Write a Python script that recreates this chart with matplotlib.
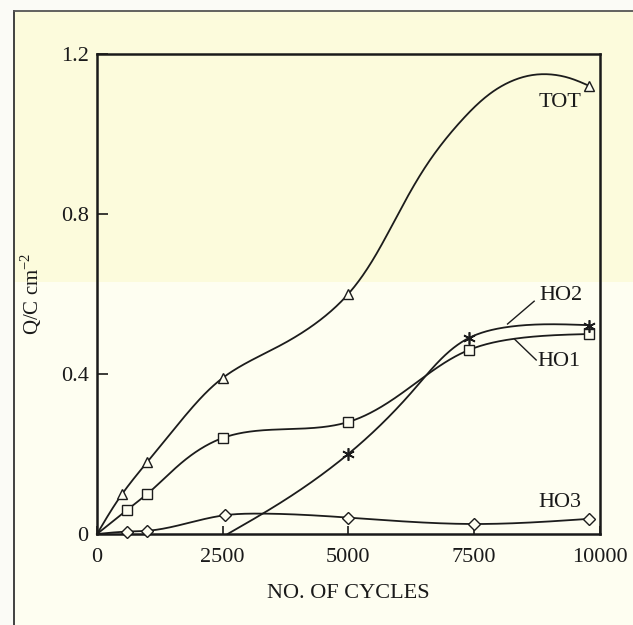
import numpy as np
import matplotlib
matplotlib.use("Agg")
import matplotlib.pyplot as plt
from matplotlib.patches import Rectangle
from matplotlib.lines import Line2D

# ---------------- data ----------------
# marker positions
tot_x = [500, 1000, 2500, 5000, 9800]
tot_y = [0.10, 0.18, 0.39, 0.60, 1.12]
ho1_x = [600, 1000, 2500, 5000, 7400, 9800]
ho1_y = [0.06, 0.10, 0.24, 0.28, 0.46, 0.50]
ho2_x = [5000, 7400, 9800]
ho2_y = [0.20, 0.49, 0.52]
ho3_x = [600, 1000, 2550, 5000, 7500, 9800]
ho3_y = [0.006, 0.008, 0.047, 0.041, 0.025, 0.038]

# traced points of the drawn smooth curves
tot_cx = [0, 500, 1000, 1750, 2500, 3700, 5000, 5950, 6600, 7300, 7950, 8700, 9400, 9800]
tot_cy = [0, 0.10, 0.18, 0.295, 0.39, 0.475, 0.60, 0.79, 0.93, 1.04, 1.112, 1.148, 1.14, 1.12]
ho1_cx = [0, 600, 1000, 1750, 2500, 3750, 5000, 6100, 7400, 8300, 9800]
ho1_cy = [0, 0.06, 0.10, 0.185, 0.24, 0.262, 0.28, 0.355, 0.46, 0.488, 0.50]
ho2_cx = [2600, 3650, 5000, 6300, 7400, 8200, 9800]
ho2_cy = [0.0, 0.078, 0.20, 0.36, 0.49, 0.518, 0.522]
ho3_cx = [0, 600, 1000, 2550, 3200, 5000, 7500, 9800]
ho3_cy = [0, 0.006, 0.008, 0.047, 0.051, 0.041, 0.025, 0.038]

labels = ["TOT", "HO2", "HO1", "HO3"]
label_x = [9220, 9240, 9200, 9220]
label_y = [1.078, 0.595, 0.43, 0.078]
# leader lines (label -> curve)
lead_ho2 = ([8700, 8170], [0.582, 0.525])
lead_ho1 = ([8740, 8310], [0.435, 0.487])

xticks = [0, 2500, 5000, 7500, 10000]
yticks = [0, 0.4, 0.8, 1.2]
ytick_labels = ["0", "0.4", "0.8", "1.2"]


def _natural_spline(t, v, tt):
    n = len(t)
    h = np.diff(t)
    A = np.zeros((n, n))
    r = np.zeros(n)
    A[0, 0] = A[-1, -1] = 1.0
    for i in range(1, n - 1):
        A[i, i - 1] = h[i - 1]
        A[i, i] = 2 * (h[i - 1] + h[i])
        A[i, i + 1] = h[i]
        r[i] = 6 * ((v[i + 1] - v[i]) / h[i] - (v[i] - v[i - 1]) / h[i - 1])
    M = np.linalg.solve(A, r)
    idx = np.clip(np.searchsorted(t, tt) - 1, 0, n - 2)
    t0, t1 = t[idx], t[idx + 1]
    hh = t1 - t0
    a = (t1 - tt) / hh
    b = (tt - t0) / hh
    return (a * v[idx] + b * v[idx + 1]
            + ((a ** 3 - a) * M[idx] + (b ** 3 - b) * M[idx + 1]) * hh ** 2 / 6)


def smooth(xs, ys, n=600):
    """Chord-length parametric natural cubic spline through traced points."""
    sx, sy = 503.0 / 10000.0, 400.0
    px = np.asarray(xs, float) * sx
    py = np.asarray(ys, float) * sy
    d = np.hypot(np.diff(px), np.diff(py))
    t = np.concatenate([[0], np.cumsum(d)])
    tt = np.linspace(0, t[-1], n)
    return _natural_spline(t, px, tt) / sx, _natural_spline(t, py, tt) / sy


plt.rcParams['font.family'] = ['Liberation Serif', 'DejaVu Serif']
plt.rcParams['mathtext.fontset'] = 'custom'
plt.rcParams['mathtext.rm'] = 'Liberation Serif'

W, H = 633, 625
fig = plt.figure(figsize=(W / 100, H / 100), dpi=100)
fig.patch.set_facecolor('#fbfbf6')

# scanned page background (behind everything)
fig.patches.append(Rectangle((14 / W, 0), 1, (H - 282) / H, transform=fig.transFigure,
                             facecolor='#fefef1', edgecolor='none', zorder=-10))
fig.patches.append(Rectangle((14 / W, (H - 282) / H), 1, (282 - 11) / H, transform=fig.transFigure,
                             facecolor='#fcfbdc', edgecolor='none', zorder=-10))
fig.lines.append(Line2D([14 / W, 14 / W], [0, 1 - 11 / H], transform=fig.transFigure,
                        color='#333333', lw=1.3, zorder=-5))
fig.lines.append(Line2D([14 / W, 1], [1 - 11 / H, 1 - 11 / H], transform=fig.transFigure,
                        color='#555555', lw=1.3, zorder=-5))

ax = fig.add_axes([97 / W, 1 - 534 / H, (599.5 - 97) / W, (534 - 54) / H])
ax.set_facecolor('none')
ax.set_zorder(5)

lc = '#1c1c1c'
lw = 1.3
for cx, cy in [(tot_cx, tot_cy), (ho1_cx, ho1_cy), (ho2_cx, ho2_cy), (ho3_cx, ho3_cy)]:
    sx_, sy_ = smooth(cx, cy)
    ax.plot(sx_, sy_, color=lc, lw=lw, zorder=2, clip_on=False)

mk = dict(markerfacecolor='#fefef1', markeredgecolor=lc, markeredgewidth=1.0,
          linestyle='none', zorder=3, clip_on=False)
ax.plot(tot_x, tot_y, marker='^', markersize=6.5, **mk)
ax.plot(ho1_x, ho1_y, marker='s', markersize=6.5, **mk)
ax.plot(ho3_x, ho3_y, marker='D', markersize=6, **mk)
ax.plot(ho2_x, ho2_y, marker=(6, 2, 0), markersize=9, linestyle='none',
        markeredgecolor=lc, markeredgewidth=1.2, zorder=3, clip_on=False)

for t, x, y in zip(labels, label_x, label_y):
    ax.text(x, y, t, fontsize=16, ha='center', va='center', color='#1a1a1a')
ax.plot(*lead_ho2, color=lc, lw=1.0)
ax.plot(*lead_ho1, color=lc, lw=1.0)

ax.set_xlim(0, 10000)
ax.set_ylim(0, 1.2)
ax.set_xticks(xticks)
ax.set_xticklabels([str(v) for v in xticks])
ax.set_yticks(yticks)
ax.set_yticklabels(ytick_labels)
ax.tick_params(axis='x', direction='in', length=6, width=1.2, pad=10, labelsize=16,
               colors='#1a1a1a')
ax.tick_params(axis='y', direction='in', length=8, width=1.2, pad=6, labelsize=16,
               colors='#1a1a1a')
for s in ax.spines.values():
    s.set_linewidth(1.8)
    s.set_color('#1a1a1a')

ax.set_xlabel('NO. OF CYCLES', fontsize=16, labelpad=12, color='#1a1a1a')
ax.set_ylabel(r'Q/C cm$^{\mathregular{-2}}$', fontsize=15, labelpad=12, color='#1a1a1a')

fig.savefig('out.png', dpi=100, facecolor=fig.get_facecolor())
